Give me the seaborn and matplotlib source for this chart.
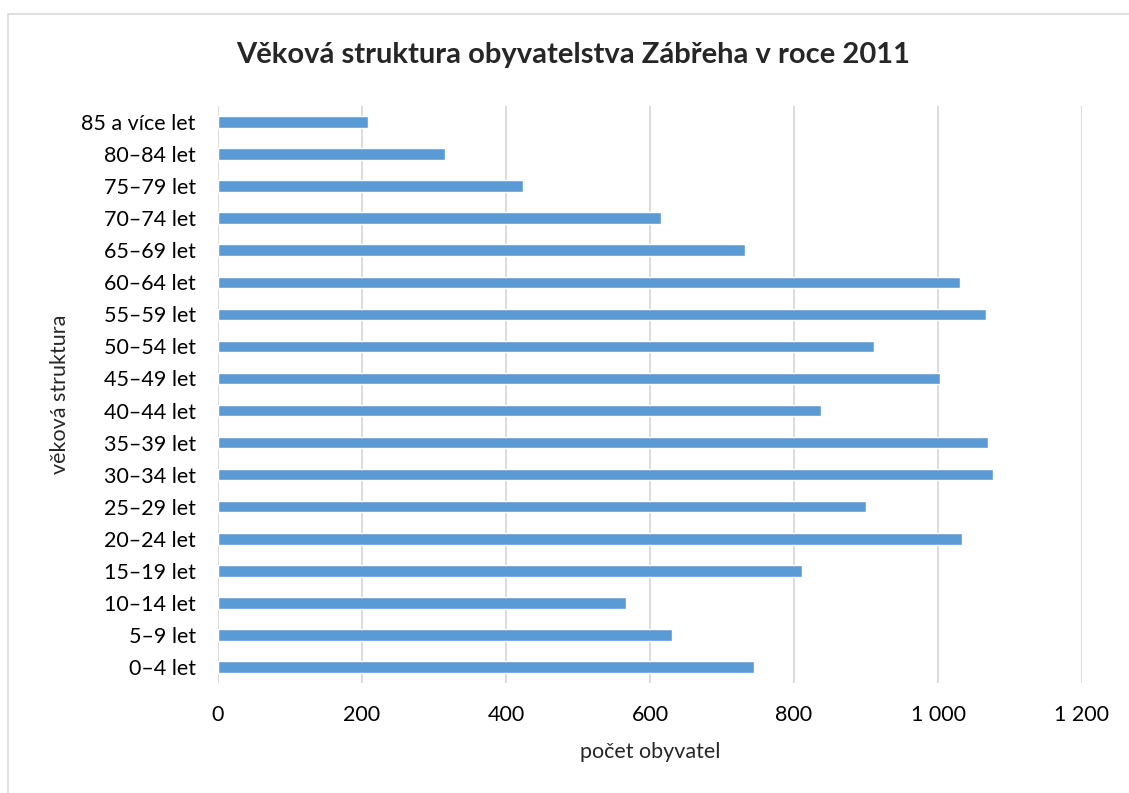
import matplotlib

matplotlib.use("Agg")
import matplotlib.pyplot as plt
import pandas as pd
import seaborn as sns
from matplotlib.patches import Rectangle


AGE_GROUPS = [
    "0–4 let", "5–9 let", "10–14 let", "15–19 let", "20–24 let", "25–29 let",
    "30–34 let", "35–39 let", "40–44 let", "45–49 let", "50–54 let", "55–59 let",
    "60–64 let", "65–69 let", "70–74 let", "75–79 let", "80–84 let", "85 a více let",
]
POPULATION = [744, 631, 567, 811, 1033, 900, 1077, 1069, 838, 1003, 911, 1067,
              1030, 732, 615, 424, 315, 208]
X_TICKS = [0, 200, 400, 600, 800, 1000, 1200]
X_TICK_LABELS = ["0", "200", "400", "600", "800", "1 000", "1 200"]

BAR_COLOR = "#5B9BD5"
GRID_COLOR = "#D9D9D9"

sns.set_style("white")
plt.rcParams["font.family"] = ["Lato", "DejaVu Sans"]

df = pd.DataFrame({"skupina": AGE_GROUPS, "pocet": POPULATION})

fig = plt.figure(figsize=(11.29, 7.93), dpi=100)
ax = fig.add_axes([218 / 1129, 1 - 683 / 793, 864 / 1129, 577 / 793])

sns.barplot(data=df, x="pocet", y="skupina", order=AGE_GROUPS[::-1],
            orient="h", color=BAR_COLOR, width=0.36, saturation=1, ax=ax)

ax.set_xlim(0, 1200)
ax.set_xticks(X_TICKS)
ax.set_xticklabels(X_TICK_LABELS)
ax.grid(axis="x", color=GRID_COLOR, linewidth=1.3)
ax.set_axisbelow(True)
for spine in ax.spines.values():
    spine.set_visible(False)
ax.tick_params(axis="both", length=0, labelsize=15.5, colors="#000000")
ax.tick_params(axis="x", pad=16)
ax.tick_params(axis="y", pad=16)

ax.set_xlabel("počet obyvatel", fontsize=15.5, labelpad=12)
ax.set_ylabel("věková struktura", fontsize=15.5, labelpad=8)

fig.text(573 / 1129, 1 - 55 / 793, "Věková struktura obyvatelstva Zábřeha v roce 2011",
         ha="center", va="center", fontsize=21, fontweight="bold")

fig.patches.append(Rectangle((8 / 1129, -0.01), 1.0, 1 - 14 / 793 + 0.01,
                             transform=fig.transFigure, fill=False,
                             edgecolor=GRID_COLOR, linewidth=1.2))

fig.savefig("out.png", dpi=100)
